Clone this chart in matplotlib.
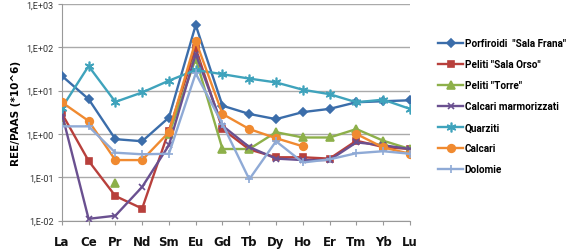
import numpy as np
import matplotlib
matplotlib.use("Agg")
import matplotlib.pyplot as plt
from matplotlib.ticker import FixedLocator

nan = np.nan

elements = ["La", "Ce", "Pr", "Nd", "Sm", "Eu", "Gd", "Tb", "Dy", "Ho", "Er", "Tm", "Yb", "Lu"]

porfiroidi = [22, 6.4, 0.76, 0.68, 2.4, 327, 4.5, 2.9, 2.2, 3.2, 3.8, 5.4, 5.7, 6.0]
peliti_orso = [3.0, 0.24, 0.037, 0.019, 1.2, 95, 1.3, 0.44, 0.29, 0.29, 0.27, 0.7, 0.5, 0.45]
peliti_torre = [1.9, nan, 0.075, nan, 1.0, 55, 0.45, 0.45, 1.1, 0.83, 0.83, 1.3, 0.7, 0.45]
calcari_marm = [3.0, 0.011, 0.013, 0.06, 0.55, 70, 1.55, 0.5, 0.27, 0.25, 0.25, 0.64, 0.55, 0.45]
quarziti = [4.0, 37, 5.5, 9.1, 17, 30, 24, 19, 15.5, 10.5, 8.3, 5.4, 6.2, 3.8]
calcari = [5.4, 2.0, 0.25, 0.25, 1.1, 142, 2.9, 1.3, 0.8, 0.52, nan, 1.0, 0.49, 0.35]
dolomie = [1.5, 1.5, 0.37, 0.34, 0.35, 25, 1.7, 0.09, 0.68, 0.22, 0.26, 0.36, 0.4, 0.35]

series = [
    ('Porfiroidi  "Sala Frana"', porfiroidi, "#3B6DAA", "D", 4.5),
    ('Peliti "Sala Orso"', peliti_orso, "#B8403C", "s", 5),
    ('Peliti "Torre"', peliti_torre, "#8DB04A", "^", 5.5),
    ("Calcari marmorizzati", calcari_marm, "#6A5090", "x", 5),
    ("Quarziti", quarziti, "#3FA3BC", (6, 2, 0), 7),
    ("Calcari", calcari, "#F08A30", "o", 5.5),
    ("Dolomie", dolomie, "#8FAAD6", "+", 6),
]

fig = plt.figure(figsize=(5.67, 2.51), dpi=100)
ax = fig.add_axes([0.109, 0.117, 0.614, 0.863])

x = np.arange(len(elements))
for label, vals, color, marker, ms in series:
    ax.plot(x, vals, color=color, linewidth=1.7, marker=marker, markersize=ms,
            markeredgecolor=color, markerfacecolor=color, markeredgewidth=1.2,
            label=label, zorder=3)

ax.set_yscale("log")
ax.set_ylim(1e-2, 1e3)
ax.set_xlim(0, len(elements) - 1)
ax.yaxis.set_major_locator(FixedLocator([1e-2, 1e-1, 1, 10, 100, 1000]))
ax.yaxis.set_minor_locator(FixedLocator([]))
ax.set_yticklabels(["1,E-02", "1,E-01", "1,E+00", "1,E+01", "1,E+02", "1,E+03"],
                   fontsize=6.5, color="#333333", family="Roboto")
ax.set_xticks(x)
ax.set_xticklabels(elements, fontsize=8.5, fontweight="bold", color="#111111")
ax.tick_params(axis="x", length=3, color="#999999", pad=7)
ax.tick_params(axis="y", length=3, color="#999999", pad=3)
ax.grid(axis="y", color="#AAAAAA", linewidth=1.0)
ax.set_axisbelow(True)
for side in ("top", "right"):
    ax.spines[side].set_visible(False)
for side in ("left", "bottom"):
    ax.spines[side].set_color("#999999")

ax.set_ylabel("REE/PAAS (*10^6)", fontsize=7.5, fontweight="bold", labelpad=4)

ax.legend(loc="upper left", bbox_to_anchor=(1.07, 0.86), frameon=False,
          handlelength=2.5, labelspacing=1.1, handletextpad=0.15, borderaxespad=0,
          prop={"weight": "bold", "size": 7.2, "family": "Roboto"})

fig.savefig("out.png", dpi=100)
